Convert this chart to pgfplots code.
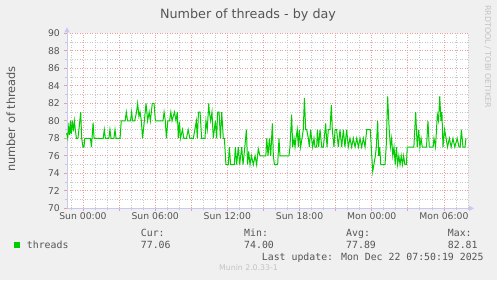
\documentclass[border=0pt]{standalone}
\usepackage{fontspec}
\setmainfont{DejaVu Sans}
\newfontfamily\monofont{DejaVu Sans Mono}
\usepackage{pgfplots}
\pgfplotsset{compat=1.18}
\usetikzlibrary{arrows.meta,backgrounds}
\definecolor{bgc}{RGB}{240,240,240}
\definecolor{txt}{RGB}{85,85,85}
\definecolor{mgrid}{RGB}{232,160,160}
\definecolor{ngrid}{RGB}{200,200,200}
\definecolor{axc}{RGB}{200,200,240}
\definecolor{lgreen}{RGB}{0,204,0}
\definecolor{faint}{RGB}{195,195,195}
\begin{document}
\begin{tikzpicture}[x=1bp,y=1bp]
\begin{axis}[
  scale only axis,
  width=401bp, height=175bp,
  xmin=-1.33, xmax=32.0, ymin=70, ymax=90,
  axis background/.style={fill=white},
  axis lines=left,
  axis line style={draw=axc, line width=1bp, shorten >=-6bp, -{Triangle[width=5bp,length=5bp]}},
  xtick={0,3,...,30},
  xticklabels={Sun 00:00,,Sun 06:00,,Sun 12:00,,Sun 18:00,,Mon 00:00,,Mon 06:00},
  minor xtick={-1,1,2,4,5,7,8,10,11,13,14,16,17,19,20,22,23,25,26,28,29,31,32},
  ytick={70,72,...,90}, minor ytick={71,73,...,89},
  grid=both,
  major grid style={draw=mgrid, line width=0.8bp, dash pattern=on 1bp off 1.5bp},
  minor grid style={draw=ngrid, line width=0.8bp, dash pattern=on 1bp off 1.5bp},
  tick align=outside,
  major tick length=2.5bp, minor tick length=2bp,
  major tick style={draw=mgrid, line width=0.8bp},
  minor tick style={draw=ngrid, line width=0.8bp},
  ticklabel style={font=\fontsize{9.3}{11}\selectfont, text=txt, inner sep=0pt},
  xticklabel style={anchor=north, yshift=-1.5bp},
  yticklabel style={anchor=east, xshift=-4.5bp},
  /pgf/number format/assume math mode=true,
  clip=false,
]
\addplot[lgreen, line width=1bp] coordinates {
(-1.36,78.6) (-1.27,78) (-1.19,79.3) (-1.11,78.4) (-1.05,80) (-0.97,78.5) (-0.89,80) (-0.80,78.8) (-0.72,80) (-0.64,79) (-0.55,78) (-0.42,78) (-0.30,79.5) (-0.19,81) (-0.11,78) (0,77) (0.08,77) (0.15,78) (0.62,78) (0.70,77) (0.84,79.8) (0.92,78) (1.68,78) (1.77,79) (1.86,78) (2.15,78) (2.24,79) (2.33,78) (2.57,78) (2.66,79) (2.75,78) (3.08,78) (3.18,80)
(3.5,80) (3.6,81) (3.7,80) (3.95,80) (4.04,81) (4.12,80) (4.3,80) (4.45,81) (4.54,82) (4.65,80.5) (4.74,81) (4.85,80) (4.95,78) (5.1,80) (5.24,82) (5.37,80) (5.5,81) (5.6,80) (5.76,82) (5.9,82) (6.02,80) (6.65,80) (6.74,81) (6.84,80) (6.93,78) (7.05,80) (7.2,80) (7.3,81) (7.4,80) (7.6,81) (7.73,80) (7.84,81) (7.92,78) (8.02,79.9) (8.1,78) (8.27,79) (8.38,78) (8.6,78) (8.74,79) (8.88,78) (9.17,78) (9.3,79) (9.42,80) (9.5,78) (9.6,81)
(9.73,81) (9.86,78) (10.14,78) (10.22,80) (10.33,79) (10.45,82) (10.5,81) (10.61,80) (10.72,81) (10.83,78) (10.92,79) (11.0,80) (11.11,78) (11.19,81) (11.31,81) (11.42,78) (11.53,81) (11.66,78) (11.75,78) (11.88,75) (12.08,75) (12.16,77) (12.27,75) (12.58,75) (12.66,77) (12.77,75) (12.91,77) (13.02,75) (13.19,77) (13.3,75) (13.45,77) (13.58,79) (13.68,75) (13.77,76.5) (13.88,75) (14.0,76) (14.16,75) (14.3,76) (14.43,75) (14.57,76.8) (14.71,76) (15.2,76) (15.27,78) (15.38,76) (15.49,78) (15.6,76) (15.74,79.7) (15.82,76) (15.91,75) (16.18,75) (16.29,78) (16.37,76) (17.12,76) (17.2,77) (17.34,80.7) (17.43,77)
(17.54,78) (17.62,77) (17.70,78) (17.81,79) (17.9,77) (17.98,79) (18.09,77) (18.2,78) (18.31,79) (18.40,82.6) (18.51,79) (18.59,79) (18.73,78) (18.81,77) (18.92,79) (19.0,78) (19.09,77) (19.2,78) (19.28,77) (19.42,77) (19.48,79) (19.59,77) (19.7,79) (19.84,77) (19.98,77) (20.17,79.7) (20.28,77) (20.39,79) (20.53,79) (20.64,81.8) (20.72,79) (20.86,77) (20.95,79) (21.08,79) (21.22,77) (21.36,79) (21.5,77) (21.64,79) (21.77,77) (21.91,79) (22.05,77) (22.19,78) (22.33,77) (22.47,78) (22.61,77) (22.75,78) (22.89,77) (23.02,78) (23.16,77) (23.3,78) (23.44,77) (23.58,79) (23.72,79) (23.88,79)
(24.0,76) (24.08,74.2) (24.2,75.2) (24.3,76) (24.38,77) (24.49,80) (24.58,76) (24.66,77) (24.75,75) (25.1,75) (25.2,77) (25.32,82.8) (25.45,79) (25.55,77) (25.65,78) (25.75,76) (25.85,77) (25.95,75) (26.05,77) (26.15,75) (26.25,76) (26.35,75) (26.45,76) (26.55,75) (26.65,76) (26.75,75) (26.88,75) (26.95,77)
(27.5,77) (27.65,81) (27.78,77) (27.9,79) (28.0,77) (28.1,78) (28.2,77) (28.55,77) (28.67,80) (28.78,77) (29.1,77) (29.17,78) (29.3,77) (29.45,80.7) (29.55,80) (29.65,82.8) (29.75,80) (29.83,81) (29.92,77) (30.05,79) (30.18,78) (30.3,77) (30.45,78) (30.6,77) (30.75,78) (30.9,77) (31.1,78) (31.25,77) (31.35,77) (31.45,79) (31.58,77) (31.75,77) (31.83,78)
};
\coordinate (O) at (axis cs:-1.33,70);
\end{axis}
\begin{scope}[shift={(O)}]
\begin{scope}[shift={(-67,-71.7)}]
\begin{scope}[on background layer]
\fill[bgc] (0,0) rectangle (497,280);
\end{scope}
\node[anchor=base, text=txt, font=\fontsize{12.8}{15}\selectfont, inner sep=0pt] at (248,261.7) {Number of threads - by day};
\node[anchor=base, rotate=90, text=txt, font=\fontsize{11.4}{13}\selectfont, inner sep=0pt] at (15,161) {number of threads};
\node[anchor=base, rotate=-90, text=faint, font=\fontsize{8}{9}\selectfont, inner sep=0pt] at (485,223.5) {RRDTOOL / TOBI OETIKER};
\fill[lgreen] (14,31.7) rectangle (20.3,38.3);
\begin{scope}[every node/.style={anchor=base west, inner sep=0pt, text=txt, font=\monofont\fontsize{9.9}{11}\selectfont}]
\node at (26.7,31.3) {threads};
\node at (140.7,43.3) {Cur:};
\node at (244,43.3) {Min:};
\node at (346,43.3) {Avg:};
\node at (447.7,43.3) {Max:};
\node at (140.7,31.3) {77.06};
\node at (244,31.3) {74.00};
\node at (346,31.3) {77.89};
\node at (447.7,31.3) {82.81};
\node at (261.7,19.3) {Last update: Mon Dec 22 07:50:19 2025};
\end{scope}
\node[anchor=base west, inner sep=0pt, text=faint, font=\fontsize{7.8}{9}\selectfont] at (219,9.5) {Munin 2.0.33-1};
\end{scope}
\end{scope}
\end{tikzpicture}
\end{document}
